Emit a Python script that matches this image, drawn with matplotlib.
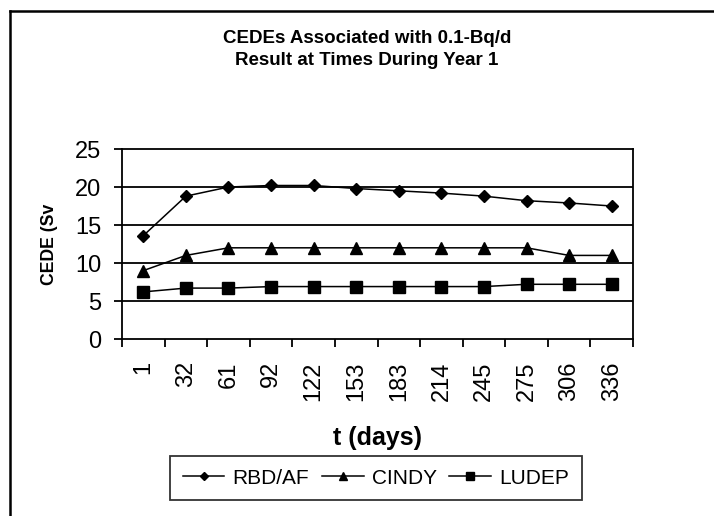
import matplotlib
matplotlib.use("Agg")
from matplotlib import pyplot as plt
from matplotlib.lines import Line2D
import numpy as np

plt.rcParams['font.family'] = ['Liberation Sans', 'DejaVu Sans']

days = ["1", "32", "61", "92", "122", "153", "183", "214", "245", "275", "306", "336"]
rbd_af = [13.6, 18.8, 20.0, 20.2, 20.2, 19.8, 19.5, 19.2, 18.8, 18.2, 17.9, 17.5]
cindy = [9.0, 11.0, 12.0, 12.0, 12.0, 12.0, 12.0, 12.0, 12.0, 12.0, 11.0, 11.0]
ludep = [6.2, 6.7, 6.7, 6.9, 6.9, 6.9, 6.9, 6.9, 6.9, 7.2, 7.2, 7.2]

fig = plt.figure(figsize=(7.14, 5.16), dpi=100)
ax = fig.add_axes([0.1709, 0.343, 0.7157, 0.3682])

x = np.arange(len(days))
ax.plot(x, rbd_af, '-', color='black', lw=1.1, marker='D', ms=6, label="RBD/AF")
ax.plot(x, cindy, '-', color='black', lw=1.1, marker='^', ms=8.5, label="CINDY")
ax.plot(x, ludep, '-', color='black', lw=1.1, marker='s', ms=8.5, label="LUDEP")

ax.set_xlim(-0.5, len(days) - 0.5)
ax.set_ylim(0, 25)
ax.set_yticks(np.arange(0, 26, 5))
for yv in range(5, 25, 5):
    ax.axhline(yv, color='black', lw=1.3, zorder=0)

# category labels at the centres, tick marks on the boundaries
ax.set_xticks(np.arange(-0.5, len(days), 1.0))
ax.set_xticklabels([])
ax.set_xticks(x, minor=True)
ax.set_xticklabels(days, minor=True, rotation=90, fontsize=17)
ax.tick_params(axis='x', which='major', direction='out', length=6, width=1.3)
ax.tick_params(axis='x', which='minor', length=0, pad=16)
ax.tick_params(axis='y', direction='out', length=6, width=1.3, labelsize=17, pad=9)
for s in ax.spines.values():
    s.set_linewidth(1.3)

ax.set_xlabel("t (days)", fontsize=18, fontweight='bold', labelpad=18)
ax.set_ylabel("CEDE (Sv", fontsize=12.7, fontweight='bold', labelpad=12)

fig.text(0.514, 0.9258, "CEDEs Associated with 0.1-Bq/d", ha='center', va='center',
         fontsize=13.5, fontweight='bold')
fig.text(0.514, 0.8828, "Result at Times During Year 1", ha='center', va='center',
         fontsize=13.5, fontweight='bold')

leg = fig.legend(loc='center', bbox_to_anchor=(0.5266, 0.0736), ncol=3, frameon=True,
                 fancybox=False, edgecolor='black', fontsize=15, markerscale=0.7,
                 handlelength=2.0, handletextpad=0.4, columnspacing=0.6,
                 borderpad=0.6, borderaxespad=0)
leg.get_frame().set_linewidth(1.3)

# outer chart frame
fig.add_artist(Line2D([10 / 714, 10 / 714], [0, 1 - 11 / 516], transform=fig.transFigure,
                      color='black', lw=1.8))
fig.add_artist(Line2D([10 / 714, 1], [1 - 11 / 516, 1 - 11 / 516], transform=fig.transFigure,
                      color='black', lw=1.8))

fig.savefig("out.png", dpi=100)
